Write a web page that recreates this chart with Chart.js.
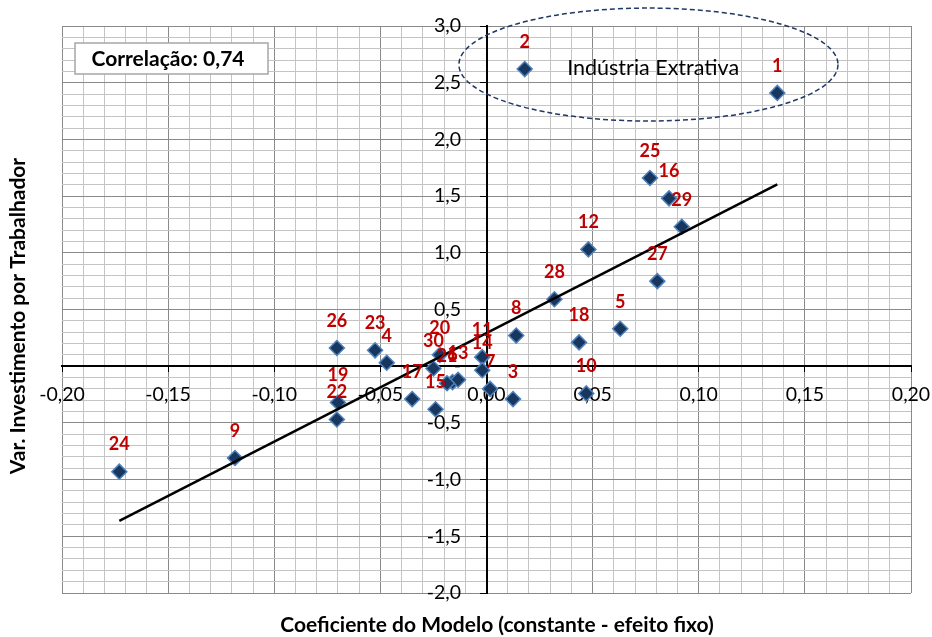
<!DOCTYPE html>
<html lang="pt">
<head>
<meta charset="UTF-8">
<title>Correlação</title>
<script src="https://cdn.jsdelivr.net/npm/chart.js@4.4.1/dist/chart.umd.min.js"></script>
<style>
  body {margin:0;padding:0;background:#fff;}
  #wrap {width:932px;height:637px;}
</style>
</head>
<body>
<div id="wrap"><canvas id="corrChart" width="932" height="637"></canvas></div>
<script>
// setores (rótulos dos pontos) e valores
const setores = ['1','2','3','4','5','6','7','8','9','10','11','12','13','14','15',
                 '16','17','18','19','20','21','22','23','24','25','26','27','28','29','30'];
const coefModelo = [0.137, 0.018, 0.0125, -0.047, 0.063, -0.016, 0.0017, 0.014, -0.1185, 0.047,
                    -0.002, 0.048, -0.0134, -0.002, -0.024, 0.086, -0.035, 0.0436, -0.070, -0.022,
                    -0.0186, -0.0705, -0.0525, -0.173, 0.077, -0.0705, 0.0805, 0.032, 0.092, -0.025];
const varInvest = [2.41, 2.62, -0.29, 0.03, 0.33, -0.14, -0.20, 0.27, -0.81, -0.24,
                   0.08, 1.03, -0.12, -0.035, -0.38, 1.48, -0.29, 0.21, -0.32, 0.10,
                   -0.15, -0.47, 0.14, -0.93, 1.66, 0.16, 0.75, 0.59, 1.23, -0.02];
const xRange = [-0.20, 0.20];
const yRange = [-2.0, 3.0];
const correlacao = '0,74';
const destaque = 'Indústria Extrativa';

const FONT = 'Lato, "Noto Sans", sans-serif';

// reta de tendência (mínimos quadrados)
const n = coefModelo.length;
const mx = coefModelo.reduce((a, b) => a + b, 0) / n;
const my = varInvest.reduce((a, b) => a + b, 0) / n;
let sxy = 0, sxx = 0;
for (let i = 0; i < n; i++) {
    sxy += (coefModelo[i] - mx) * (varInvest[i] - my);
    sxx += (coefModelo[i] - mx) * (coefModelo[i] - mx);
}
const slope = sxy / sxx;
const icpt = my - slope * mx;
const xMin = Math.min(...coefModelo), xMax = Math.max(...coefModelo);
const trend = [{x: xMin, y: icpt + slope * xMin}, {x: xMax, y: icpt + slope * xMax}];

const pontos = coefModelo.map((x, i) => ({x: x, y: varInvest[i]}));

const isMajorX = v => Math.abs(Math.round(v * 1000)) % 50 === 0;
const isMajorY = v => Math.abs(Math.round(v * 10)) % 5 === 0;
const fmtY = v => !isMajorY(v) ? '' : (Math.abs(v) < 1e-9 ? '-' : v.toFixed(1).replace('.', ','));

// os eixos cruzam no zero e não ocupam espaço no layout
const semEspacoX = s => { s.height = 0; s.paddingLeft = 0; s.paddingRight = 0; };
const semEspacoY = s => { s.width = 0; s.paddingTop = 0; s.paddingBottom = 0; };

const rotulosPlugin = {
    id: 'rotulos',
    afterDatasetsDraw(chart) {
        const meta = chart.getDatasetMeta(0);
        const ctx = chart.ctx;
        ctx.save();
        ctx.font = 'bold 18px ' + FONT;
        ctx.fillStyle = '#c00000';
        ctx.textAlign = 'center';
        ctx.textBaseline = 'middle';
        meta.data.forEach((pt, i) => ctx.fillText(setores[i], pt.x, pt.y - 27));
        ctx.restore();
    }
};

const notasPlugin = {
    id: 'notas',
    afterDraw(chart) {
        const ctx = chart.ctx;
        const sx = chart.scales.x, sy = chart.scales.y;
        ctx.save();
        // caixa da correlação
        ctx.fillStyle = '#fff';
        ctx.strokeStyle = '#a6a6a6';
        ctx.lineWidth = 1.5;
        ctx.fillRect(75, 43, 193, 31);
        ctx.strokeRect(75, 43, 193, 31);
        ctx.fillStyle = '#000';
        ctx.font = 'bold 21px ' + FONT;
        ctx.textAlign = 'center';
        ctx.textBaseline = 'middle';
        ctx.fillText('Correlação: ' + correlacao, 168, 59);

        // elipse tracejada
        const cx = sx.getPixelForValue(0.0763), cy = sy.getPixelForValue(2.66);
        const rx = sx.getPixelForValue(0.0893) - sx.getPixelForValue(0);
        const ry = sy.getPixelForValue(0) - sy.getPixelForValue(0.498);
        ctx.beginPath();
        ctx.setLineDash([5, 3]);
        ctx.strokeStyle = '#1f3864';
        ctx.lineWidth = 1.5;
        ctx.ellipse(cx, cy, rx, ry, 0, 0, Math.PI * 2);
        ctx.stroke();
        ctx.setLineDash([]);
        ctx.font = '21.5px ' + FONT;
        ctx.fillText(destaque, sx.getPixelForValue(0.0785), sy.getPixelForValue(2.63));

        // títulos dos eixos
        ctx.font = 'bold 21px ' + FONT;
        ctx.fillText('Coeficiente do Modelo (constante - efeito fixo)', 497, 625);
        ctx.translate(18, 316);
        ctx.rotate(-Math.PI / 2);
        ctx.fillText('Var. Investimento por Trabalhador', 0, 0);
        ctx.restore();
    }
};

new Chart(document.getElementById('corrChart'), {
    type: 'scatter',
    data: {
        datasets: [{
            data: pontos,
            order: 1,
            pointStyle: 'rectRot',
            pointRadius: 7.5,
            backgroundColor: '#17375e',
            borderColor: '#4f81bd',
            borderWidth: 1.5
        }, {
            data: trend,
            order: 0,
            showLine: true,
            pointRadius: 0,
            borderColor: '#000',
            borderWidth: 2.5
        }]
    },
    options: {
        responsive: false,
        animation: false,
        layout: {padding: {left: 62, right: 21, top: 26, bottom: 44}},
        plugins: {legend: {display: false}, tooltip: {enabled: false}},
        scales: {
            x: {
                type: 'linear',
                min: xRange[0], max: xRange[1],
                position: {y: 0},
                afterFit: semEspacoX,
                ticks: {
                    stepSize: 0.01, maxTicksLimit: 100, autoSkip: false, maxRotation: 0,
                    padding: 12, color: '#000', font: {family: FONT, size: 19.5},
                    callback: v => isMajorX(v) ? v.toFixed(2).replace('.', ',') : ''
                },
                grid: {
                    color: c => isMajorX(c.tick.value) ? '#8a8a8a' : '#c4c4c4',
                    tickColor: c => isMajorX(c.tick.value) ? '#000' : 'rgba(0,0,0,0)',
                    tickLength: 5, lineWidth: 1
                },
                border: {color: '#000', width: 2}
            },
            y: {
                min: yRange[0], max: yRange[1],
                position: {x: 0},
                afterFit: semEspacoY,
                ticks: {stepSize: 0.1, maxTicksLimit: 100, autoSkip: false, display: false},
                grid: {
                    color: c => isMajorY(c.tick.value) ? '#8a8a8a' : '#c4c4c4',
                    tickColor: c => isMajorY(c.tick.value) ? '#000' : 'rgba(0,0,0,0)',
                    tickLength: 6, lineWidth: 1
                },
                border: {color: '#000', width: 2}
            },
            // rótulos do eixo y, um pouco à esquerda da linha do eixo
            yRotulos: {
                type: 'linear',
                axis: 'y',
                min: yRange[0], max: yRange[1],
                position: {x: -0.012},
                afterFit: semEspacoY,
                ticks: {
                    stepSize: 0.5, autoSkip: false, color: '#000', font: {family: FONT, size: 19.5},
                    callback: fmtY
                },
                grid: {display: false},
                border: {display: false}
            }
        }
    },
    plugins: [rotulosPlugin, notasPlugin]
});
</script>
</body>
</html>
